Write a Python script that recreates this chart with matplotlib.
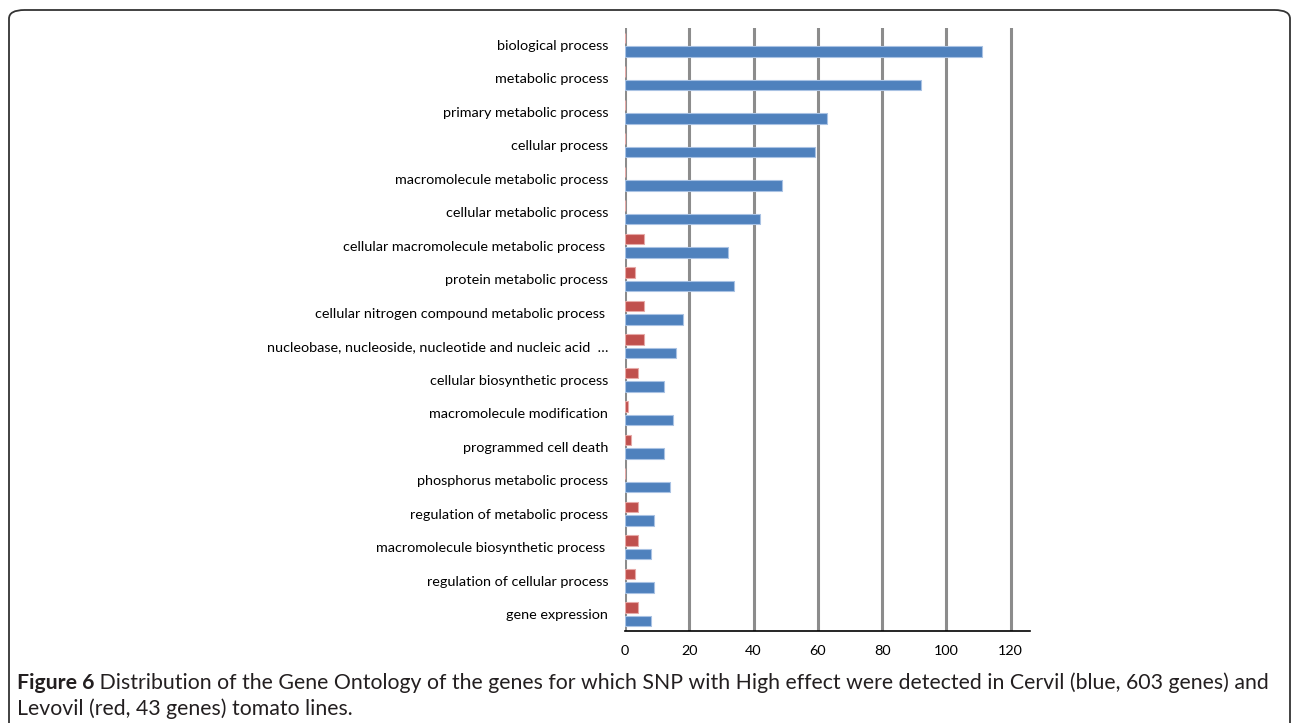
import numpy as np
import matplotlib.pyplot as plt
from matplotlib.patches import FancyBboxPatch

plt.rcParams['font.family'] = ['Lato', 'DejaVu Sans']

# GO categories, top to bottom
categories = ['biological process', 'metabolic process', 'primary metabolic process',
              'cellular process', 'macromolecule metabolic process', 'cellular metabolic process',
              'cellular macromolecule metabolic process ', 'protein metabolic process',
              'cellular nitrogen compound metabolic process ',
              'nucleobase, nucleoside, nucleotide and nucleic acid  \u2026',
              'cellular biosynthetic process', 'macromolecule modification',
              'programmed cell death', 'phosphorus metabolic process',
              'regulation of metabolic process', 'macromolecule biosynthetic process ',
              'regulation of cellular process', 'gene expression']
cervil = [111, 92, 63, 59, 49, 42, 32, 34, 18, 16, 12, 15, 12, 14, 9, 8, 9, 8]   # blue
levovil = [0, 0, 0, 0, 0, 0, 6, 3, 6, 6, 4, 1, 2, 0, 4, 4, 3, 4]                 # red
xticks = [0, 20, 40, 60, 80, 100, 120]

blue = '#4F81BD'
red = '#C0504D'

fig = plt.figure(figsize=(12.92, 7.23), dpi=100)
ax = fig.add_axes([0.4837, 0.1272, 0.3135, 0.8341])

y = np.arange(len(categories))
bh = 0.31
ax.barh(y - 0.2, levovil, height=bh, color=red, edgecolor='#E6A9A7', linewidth=0.8, zorder=3)
ax.barh(y + 0.2, cervil, height=bh, color=blue, edgecolor='#A9C2E3', linewidth=0.8, zorder=3)

ax.set_ylim(len(categories) - 0.5, -0.5)
ax.set_xlim(0, 126)
ax.set_yticks(y)
ax.set_yticklabels(categories, fontsize=10.4)
ax.set_xticks(xticks)
ax.set_xticklabels([str(v) for v in xticks], fontsize=10.4)
ax.tick_params(axis='both', length=0)
ax.tick_params(axis='y', pad=12)
ax.tick_params(axis='x', pad=10)

for v in xticks:
    ax.axvline(v, color='#8C8C8C', linewidth=2.2, zorder=1)

for s in ['top', 'right', 'left']:
    ax.spines[s].set_visible(False)
ax.spines['bottom'].set_color('black')
ax.spines['bottom'].set_linewidth(1.2)

# rounded frame around the figure
frame = FancyBboxPatch((9 / 1292, -0.2), 1281 / 1292, 0.2 + 713 / 723,
                       boxstyle='round,pad=0,rounding_size=0.012',
                       transform=fig.transFigure, facecolor='none',
                       edgecolor='#333333', linewidth=1.3, clip_on=False)
fig.patches.append(frame)

# caption
cap_size = 15.3
t1 = fig.text(17 / 1292, 1 - 683 / 723, 'Figure 6', fontsize=cap_size, fontweight='bold',
              va='center', ha='left', color='#231F20')
ax.annotate(' Distribution of the Gene Ontology of the genes for which SNP with High effect '
            'were detected in Cervil (blue, 603 genes) and',
            xy=(1, 0.5), xycoords=t1, va='center', ha='left', fontsize=cap_size,
            color='#231F20', annotation_clip=False)
fig.text(17 / 1292, 1 - 709 / 723, 'Levovil (red, 43 genes) tomato lines.', fontsize=cap_size,
         va='center', ha='left', color='#231F20')

fig.savefig('out.png', dpi=100)
